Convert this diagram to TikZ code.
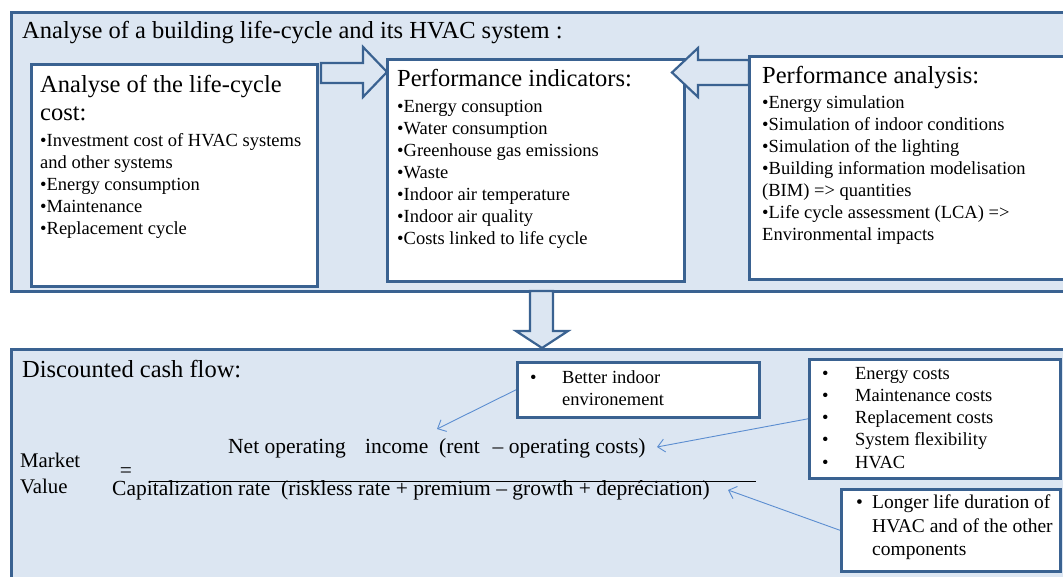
\documentclass[tikz,border=0pt]{standalone}
\usepackage{fontspec}
\setmainfont{Liberation Serif}
\usetikzlibrary{arrows.meta}

\definecolor{panelfill}{HTML}{DCE6F2}
\definecolor{hvacblue}{HTML}{3A6291}
\definecolor{pointerblue}{HTML}{5B8DD0}

\tikzset{
  panel/.style={draw=hvacblue, line width=2.8pt, fill=panelfill, anchor=north west},
  card/.style={draw=hvacblue, line width=2.6pt, fill=white, anchor=north west},
  blockarrow/.style={draw=hvacblue, line width=2.2pt, fill=panelfill, line join=miter},
  pointer/.style={draw=pointerblue, line width=0.9pt, -{Straight Barb[length=7pt,width=13pt]}},
  heading/.style={font=\fontsize{24.5}{28}\selectfont, anchor=north west, inner sep=0pt, align=left},
  itemlist/.style={font=\fontsize{18.5}{22}\selectfont, anchor=north west, inner sep=0pt, align=left},
  formula/.style={font=\fontsize{21.5}{26}\selectfont, anchor=base west, inner sep=0pt},
}

\begin{document}
\begin{tikzpicture}[x=1pt, y=-1pt]
\useasboundingbox (0,0) rectangle (1063,577);
\clip (0,0) rectangle (1063,577);

% upper part: life-cycle analysis
\node[panel, minimum width=1070, minimum height=279] (lifecycle) at (10,11) {};
\node[heading] (title) at (22,21.3) {Analyse of a building life-cycle and its HVAC system :};

\node[card, minimum width=286, minimum height=222] (lcc) at (30,63) {};
\node[heading] (lcchead) at (40,75.3) {Analyse of the life-cycle\\cost:};
\node[itemlist] (lcclist) at (40,133.7) {•Investment cost of HVAC systems\\and other systems\\•Energy consumption\\•Maintenance\\•Replacement cycle};

\node[card, minimum width=297, minimum height=222] (pi) at (386,58) {};
\node[heading] (pihead) at (397,69.3) {Performance indicators:};
\node[itemlist] (pilist) at (397,99.7) {•Energy consuption\\•Water consumption\\•Greenhouse gas emissions\\•Waste\\•Indoor air temperature\\•Indoor air quality\\•Costs linked to life cycle};

\node[card, minimum width=330, minimum height=223] (pa) at (748,55) {};
\node[heading] (pahead) at (762,66.3) {Performance analysis:};
\node[itemlist] (palist) at (762,95.7) {•Energy simulation\\•Simulation of indoor conditions\\•Simulation of the lighting\\•Building information modelisation\\(BIM) => quantities\\•Life cycle assessment (LCA) =>\\Environmental impacts};

\draw[blockarrow] (321,63) -- (363,63) -- (363,47) -- (387,72) -- (363,97) -- (363,83) -- (321,83) -- cycle;
\draw[blockarrow] (749,60) -- (698,60) -- (698,48) -- (672,72.5) -- (698,97) -- (698,85) -- (749,85) -- cycle;

% lower part: discounted cash flow
\node[panel, minimum width=1070, minimum height=240] (cashflow) at (10,348) {};
\draw[blockarrow] (530,291) -- (553,291) -- (553,331) -- (568,331) -- (542,348) -- (516,331) -- (530,331) -- cycle;
\node[heading] (dcf) at (22,360.3) {Discounted cash flow:};

\node[card, minimum width=242, minimum height=55] (better) at (516,361) {};
\node[itemlist] (betterlist) at (530,370.4) {\makebox[32pt][l]{•}Better indoor\\\hspace*{32pt}environement};

\node[card, minimum width=251, minimum height=119] (costs) at (808,358) {};
\node[itemlist, font=\fontsize{18.5}{22.3}\selectfont] (costslist) at (822,366.7) {\makebox[33pt][l]{•}Energy costs\\\makebox[33pt][l]{•}Maintenance costs\\\makebox[33pt][l]{•}Replacement costs\\\makebox[33pt][l]{•}System flexibility\\\makebox[33pt][l]{•}HVAC};

\node[card, minimum width=219, minimum height=82] (longer) at (840,488) {};
\node[itemlist, font=\fontsize{19.5}{23.5}\selectfont] (longerlist) at (856,494.7) {\makebox[16pt][l]{•}Longer life duration of\\\hspace*{16pt}HVAC and of the other\\\hspace*{16pt}components};

\node[font=\fontsize{20.8}{26}\selectfont, anchor=north west, inner sep=0pt, align=left] (market) at (20,453) {Market\\Value};
\node[formula, anchor=center] (equals) at (126,473) {=};
\node[formula] (numerator) at (228,453) {Net operating\hspace{0.9em}income\hspace{0.5em}(rent\hspace{0.6em}– operating costs)};
\node[formula] (denominator) at (112,495) {Capitalization rate\hspace{0.5em}(riskless rate + premium – growth + depréciation)};
\draw[line width=0.8pt] (150,481) -- (756,481);

\coordinate (betterTip) at (437,429);
\coordinate (costsTip) at (657,447);
\coordinate (longerTip) at (728,490);
\draw[pointer] (better.west) -- (betterTip);
\draw[pointer] (costs.west) -- (costsTip);
\draw[pointer] (longer.west) -- (longerTip);
\end{tikzpicture}
\end{document}
